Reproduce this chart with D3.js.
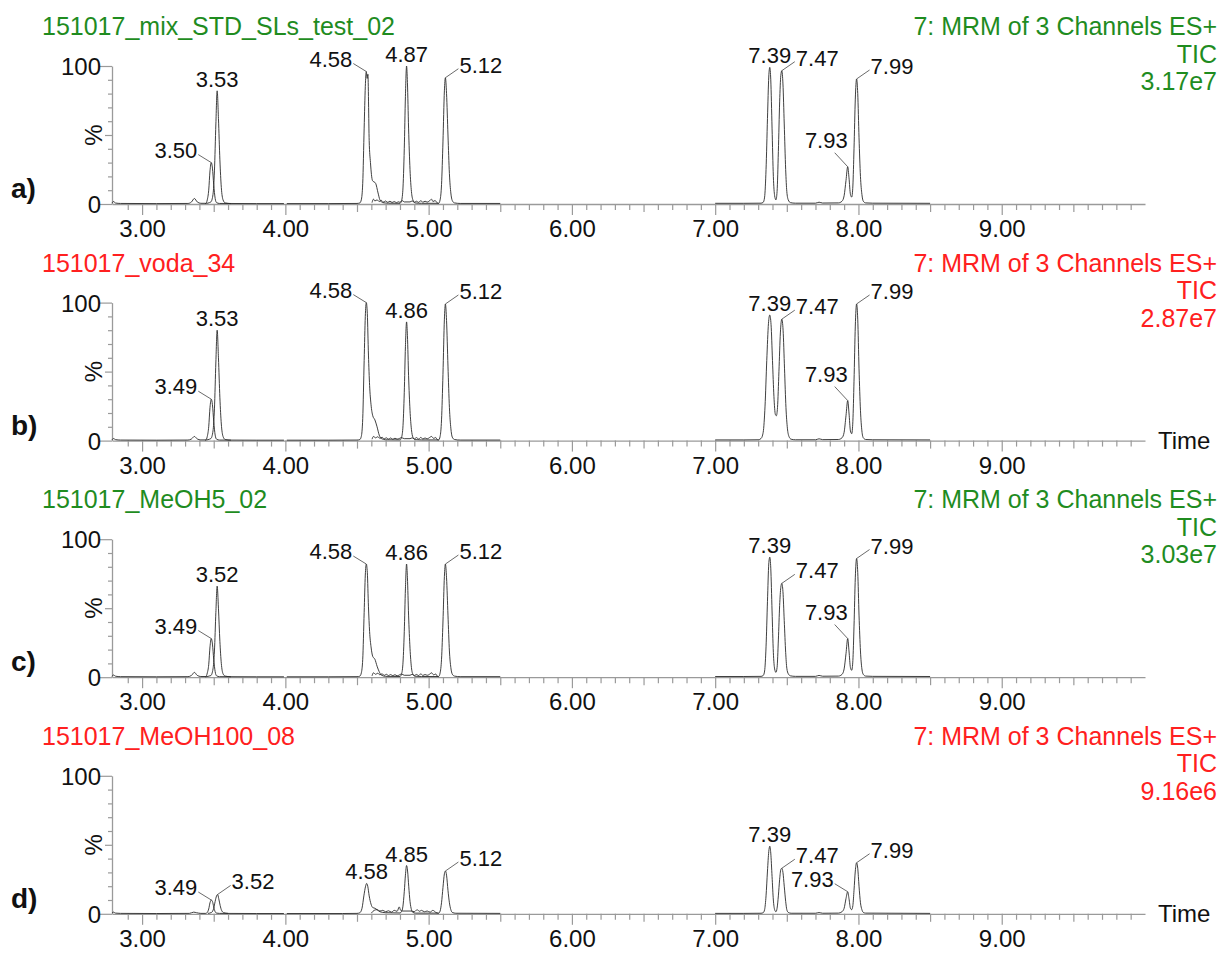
<!DOCTYPE html>
<html><head><meta charset="utf-8">
<script src="https://cdn.jsdelivr.net/npm/d3@7"></script>
<style>
html,body{margin:0;padding:0;background:#fff;}
svg{display:block;font-family:"Liberation Sans",Arial,sans-serif;}
</style></head>
<body>
<svg id="chart" width="1226" height="954"></svg>
<script>
// ---------------- DATA ----------------
const sampleNames = ["151017_mix_STD_SLs_test_02", "151017_voda_34", "151017_MeOH5_02", "151017_MeOH100_08"];
const panelLetters = ["a)", "b)", "c)", "d)"];
const headerColors = ["#1f8c1f", "#ff2020", "#1f8c1f", "#ff2020"];
const channelTitle = "7: MRM of 3 Channels ES+";
const traceType = "TIC";
const intensities = ["3.17e7", "2.87e7", "3.03e7", "9.16e6"];
const showTimeLabel = [false, true, false, true];
const timeTicks = [3, 4, 5, 6, 7, 8, 9];
const timeTickLabels = ["3.00", "4.00", "5.00", "6.00", "7.00", "8.00", "9.00"];
const yTickLabels = ["0", "100"];

// chromatogram traces: [time (min), relative intensity (%)]
const a_s1_c1 = [[2.79,0.6],[2.80,1.8],[2.815,0.7],[2.85,0.4],[3.10,0.3],[3.32,0.4],[3.345,1.5],[3.365,4],[3.385,1.5],[3.41,0.5],[3.445,0.5],[3.455,3],[3.465,10],[3.474,24],[3.483,30],[3.491,26],[3.50,14],[3.51,4],[3.52,1],[3.54,0.4],[3.80,0.3],[3.99,0.3]];
const a_s1_c2 = [[3.44,0.3],[3.48,1.5],[3.495,7],[3.505,24],[3.515,58],[3.524,82],[3.533,62],[3.543,32],[3.553,12],[3.565,3],[3.58,0.8],[3.62,0.3]];
const a_s2_c1 = [[4.01,0.3],[4.30,0.3],[4.50,0.4],[4.52,0.8],[4.53,3],[4.54,15],[4.55,55],[4.558,85],[4.565,96],[4.571,91],[4.576,94],[4.585,46],[4.594,30],[4.608,17],[4.63,15],[4.647,8],[4.66,3],[4.68,1],[4.72,0.6],[4.80,0.5],[4.81,2],[4.82,10],[4.83,40],[4.838,78],[4.846,100],[4.852,88],[4.86,55],[4.87,25],[4.88,9],[4.89,3],[4.905,0.8],[4.95,0.5],[5.07,0.5],[5.08,3],[5.09,14],[5.10,45],[5.11,82],[5.117,91.5],[5.125,80],[5.135,50],[5.145,22],[5.155,8],[5.165,2.5],[5.18,0.8],[5.22,0.4],[5.50,0.4]];
const a_s2_c2 = [[4.605,1],[4.615,3.5],[4.625,2.2],[4.64,3],[4.655,1.8],[4.67,2.6],[4.685,1.4],[4.70,2.2],[4.715,1.2],[4.73,2],[4.745,1.1],[4.76,1.8],[4.775,1],[4.79,1.6],[4.80,1.2],[4.815,2.5],[4.83,1.5],[4.87,1.5],[4.885,2.2],[4.90,1.3],[4.915,2],[4.93,1.2],[4.945,2.4],[4.96,1.3],[4.975,2],[4.99,1.4],[5.005,2.2],[5.02,3.5],[5.03,1.8],[5.045,2.5],[5.06,0.8],[5.07,0.4]];
const a_s3_c1 = [[7.00,0.5],[7.20,0.5],[7.32,0.6],[7.335,1.2],[7.345,5],[7.355,25],[7.365,62],[7.374,92],[7.381,99],[7.388,90],[7.397,55],[7.406,20],[7.415,6],[7.424,3],[7.432,9],[7.441,38],[7.45,74],[7.458,93],[7.465,96.6],[7.473,87],[7.482,58],[7.492,25],[7.50,9],[7.51,3],[7.525,1],[7.56,0.6],[7.70,0.6],[7.725,1.3],[7.75,0.7],[7.86,0.8],[7.885,2],[7.90,6],[7.913,17],[7.925,27],[7.934,19],[7.944,7],[7.953,5],[7.961,13],[7.969,40],[7.978,76],[7.987,90.6],[7.995,80],[8.004,48],[8.014,20],[8.024,7],[8.034,2],[8.05,0.8],[8.10,0.6],[8.50,0.5]];

const b_s1_c1 = [[2.79,0.6],[2.80,1.5],[2.815,0.7],[2.85,0.4],[3.10,0.3],[3.32,0.4],[3.345,1.2],[3.365,3],[3.385,1.2],[3.41,0.5],[3.445,0.5],[3.455,3],[3.465,10],[3.474,24],[3.483,30],[3.491,26],[3.50,14],[3.51,4],[3.52,1],[3.54,0.4],[3.80,0.3],[3.99,0.3]];
const b_s1_c2 = [[3.44,0.3],[3.48,1.5],[3.495,7],[3.505,23],[3.515,57],[3.524,80],[3.533,60],[3.543,31],[3.553,12],[3.565,3],[3.58,0.8],[3.62,0.3]];
const b_s2_c1 = [[4.01,0.3],[4.30,0.3],[4.50,0.4],[4.52,0.8],[4.53,3],[4.54,16],[4.55,58],[4.558,90],[4.565,100],[4.572,92],[4.58,62],[4.588,40],[4.598,26],[4.61,18],[4.625,15],[4.64,10],[4.655,4],[4.67,1.5],[4.70,0.6],[4.80,0.5],[4.81,2],[4.82,9],[4.83,35],[4.838,68],[4.846,86],[4.852,76],[4.86,47],[4.87,22],[4.88,8],[4.89,2.5],[4.905,0.7],[4.95,0.5],[5.07,0.5],[5.08,3],[5.09,15],[5.10,48],[5.11,88],[5.117,99],[5.125,87],[5.135,54],[5.145,24],[5.155,9],[5.165,2.5],[5.18,0.8],[5.22,0.4],[5.50,0.4]];
const b_s2_c2 = [[4.605,1],[4.615,3],[4.63,2],[4.645,2.8],[4.66,1.6],[4.675,2.4],[4.69,1.3],[4.705,2],[4.72,1.1],[4.735,1.9],[4.75,1],[4.765,1.7],[4.78,1.1],[4.795,1.5],[4.81,2.2],[4.83,1.4],[4.87,1.4],[4.885,2],[4.90,1.2],[4.915,2.2],[4.93,1.1],[4.945,2.3],[4.96,1.2],[4.975,1.9],[4.99,1.3],[5.005,2.1],[5.02,3],[5.035,1.6],[5.05,2.2],[5.06,0.7],[5.07,0.4]];
const b_s3_c1 = [[7.00,0.5],[7.20,0.5],[7.30,0.6],[7.32,1.5],[7.335,6],[7.348,25],[7.36,58],[7.372,85],[7.381,91],[7.39,84],[7.40,58],[7.41,32],[7.42,19],[7.427,18],[7.435,24],[7.445,50],[7.455,78],[7.465,88],[7.474,80],[7.484,52],[7.494,24],[7.504,9],[7.515,3],[7.53,1],[7.56,0.6],[7.70,0.6],[7.725,1.3],[7.75,0.7],[7.86,0.8],[7.885,2],[7.90,6],[7.913,18],[7.925,29],[7.934,20],[7.944,7],[7.953,5],[7.961,14],[7.969,43],[7.978,83],[7.987,99],[7.995,88],[8.004,52],[8.014,22],[8.024,7],[8.034,2],[8.05,0.8],[8.10,0.6],[8.50,0.5]];

const c_s1_c1 = [[2.79,0.6],[2.80,1.6],[2.815,0.7],[2.85,0.4],[3.10,0.3],[3.32,0.4],[3.345,1.3],[3.365,3.5],[3.385,1.3],[3.41,0.5],[3.445,0.5],[3.455,3],[3.465,9],[3.474,22],[3.483,28],[3.491,24],[3.50,13],[3.51,4],[3.52,1],[3.54,0.4],[3.80,0.3],[3.99,0.3]];
const c_s1_c2 = [[3.44,0.3],[3.48,1.2],[3.495,6],[3.505,19],[3.515,47],[3.524,66],[3.533,50],[3.543,26],[3.553,10],[3.565,2.5],[3.58,0.8],[3.62,0.3]];
const c_s2_c1 = [[4.01,0.3],[4.30,0.3],[4.50,0.4],[4.52,0.8],[4.53,3],[4.54,13],[4.55,47],[4.558,74],[4.565,82],[4.572,76],[4.58,51],[4.588,33],[4.598,22],[4.61,15],[4.625,13],[4.64,8],[4.655,4],[4.67,1.5],[4.70,0.6],[4.80,0.5],[4.81,2],[4.82,9],[4.83,33],[4.838,64],[4.846,82],[4.852,72],[4.86,45],[4.87,21],[4.88,7],[4.89,2.2],[4.905,0.7],[4.95,0.5],[5.07,0.5],[5.08,3],[5.09,13],[5.10,40],[5.11,73],[5.117,82],[5.125,72],[5.135,45],[5.145,19],[5.155,7],[5.165,2.2],[5.18,0.8],[5.22,0.4],[5.50,0.4]];
const c_s2_c2 = [[4.605,1],[4.615,3.2],[4.63,2.1],[4.645,2.9],[4.66,1.7],[4.675,2.5],[4.69,1.3],[4.705,2.1],[4.72,1.2],[4.735,1.9],[4.75,1.1],[4.765,1.8],[4.78,1],[4.795,1.6],[4.81,2.3],[4.83,1.4],[4.87,1.4],[4.885,2.1],[4.90,1.2],[4.915,2],[4.93,1.2],[4.945,2.4],[4.96,1.3],[4.975,1.9],[4.99,1.4],[5.005,2],[5.02,3.2],[5.035,1.7],[5.05,2.3],[5.06,0.8],[5.07,0.4]];
const c_s3_c1 = [[7.00,0.5],[7.20,0.5],[7.32,0.6],[7.335,1.2],[7.345,4.5],[7.355,22],[7.365,55],[7.374,82],[7.381,87],[7.388,79],[7.397,48],[7.406,18],[7.415,6],[7.424,3.5],[7.432,7],[7.441,27],[7.45,52],[7.458,65],[7.465,68],[7.473,62],[7.482,41],[7.492,18],[7.50,6.5],[7.51,2.5],[7.525,1],[7.56,0.6],[7.70,0.6],[7.725,1.3],[7.75,0.7],[7.86,0.8],[7.885,2],[7.90,6],[7.913,17],[7.925,28],[7.934,19],[7.944,7],[7.953,5],[7.961,12],[7.969,37],[7.978,72],[7.987,86],[7.995,76],[8.004,45],[8.014,19],[8.024,6],[8.034,2],[8.05,0.8],[8.10,0.6],[8.50,0.5]];

const d_s1_c1 = [[2.79,0.5],[2.80,1.2],[2.815,0.5],[2.85,0.3],[3.10,0.2],[3.33,0.3],[3.36,1.2],[3.38,0.8],[3.41,0.3],[3.445,0.3],[3.455,1],[3.465,3.5],[3.474,8],[3.483,10],[3.491,9],[3.50,5],[3.51,1.5],[3.52,0.5],[3.54,0.3],[3.80,0.2],[3.99,0.2]];
const d_s1_c2 = [[3.46,0.3],[3.485,1],[3.50,4],[3.51,9],[3.52,13],[3.527,14],[3.535,11],[3.545,6],[3.555,2.5],[3.57,0.8],[3.60,0.3]];
const d_s2_c1 = [[4.01,0.2],[4.40,0.2],[4.50,0.3],[4.52,0.8],[4.535,4],[4.548,13],[4.56,20],[4.567,22],[4.575,20],[4.585,13],[4.598,7],[4.61,4.5],[4.625,4],[4.64,3],[4.66,1.5],[4.70,0.8],[4.80,0.6],[4.81,1.5],[4.82,5],[4.83,16],[4.838,28],[4.846,35],[4.853,31],[4.861,20],[4.87,9],[4.88,3],[4.89,1],[4.91,0.5],[5.07,0.5],[5.08,2],[5.09,8],[5.10,19],[5.11,29],[5.117,31],[5.125,28],[5.135,17],[5.145,8],[5.155,3],[5.165,1],[5.19,0.4],[5.50,0.3]];
const d_s2_c2 = [[4.60,0.5],[4.62,2.5],[4.64,3],[4.66,2],[4.68,2.5],[4.70,1.5],[4.72,2.2],[4.74,1.2],[4.76,2.5],[4.78,1.8],[4.795,5],[4.805,2.5],[4.82,2],[4.88,2],[4.90,1.5],[4.92,3],[4.935,1.8],[4.95,2.5],[4.97,1.5],[4.99,2],[5.01,1.2],[5.03,2.5],[5.05,1],[5.07,0.3]];
const d_s3_c1 = [[7.00,0.3],[7.20,0.3],[7.32,0.4],[7.335,0.8],[7.345,3],[7.355,13],[7.365,31],[7.374,45],[7.381,49],[7.388,44],[7.397,27],[7.406,10],[7.415,3],[7.424,1.5],[7.432,4],[7.441,13],[7.45,25],[7.458,32],[7.465,33],[7.473,30],[7.482,20],[7.492,9],[7.50,3],[7.51,1],[7.53,0.4],[7.70,0.4],[7.725,0.9],[7.75,0.4],[7.86,0.5],[7.885,1.5],[7.90,4],[7.913,11],[7.925,16],[7.934,11],[7.944,4],[7.953,3],[7.961,6],[7.969,17],[7.978,31],[7.987,37],[7.995,33],[8.004,20],[8.014,8],[8.024,3],[8.034,1],[8.05,0.5],[8.50,0.3]];

// labelled peaks: [label, apex time, apex %]
const a_peaks = [["3.50",3.483,30],["3.53",3.524,82],["4.58",4.565,96],["4.87",4.846,100],["5.12",5.117,91.5],["7.39",7.381,99],["7.47",7.465,96.6],["7.93",7.925,27],["7.99",7.987,90.6]];
const b_peaks = [["3.49",3.483,30],["3.53",3.524,80],["4.58",4.565,100],["4.86",4.846,86],["5.12",5.117,99],["7.39",7.381,91],["7.47",7.465,88],["7.93",7.925,29],["7.99",7.987,99]];
const c_peaks = [["3.49",3.483,28],["3.52",3.524,66],["4.58",4.565,82],["4.86",4.846,82],["5.12",5.117,82],["7.39",7.381,87],["7.47",7.465,68],["7.93",7.925,28],["7.99",7.987,86]];
const d_peaks = [["3.49",3.483,10],["3.52",3.527,14],["4.58",4.567,22],["4.85",4.846,35],["5.12",5.117,31],["7.39",7.381,49],["7.47",7.465,33],["7.93",7.925,16],["7.99",7.987,37]];

// ---------------- LAYOUT (not data) ----------------
// label placement: [anchor, text dx, text dy (baseline), leader end dx, leader end dy] relative to apex
const L = {
  top:    ["middle", 0, -4, null, null],
  left:   ["end", -14, -5, -13, -8],
  right:  ["start", 14, -5, 13, -9],
  upleft: ["end", 0, -19, -13, -14]
};
const a_place = ["left","top","left","top","right","top","right","upleft","right"];
const b_place = ["left","top","left","top","right","top","right","upleft","right"];
const c_place = ["left","top","left","top","right","top","right","upleft","right"];
const d_place = ["left","right","top","top","right","top","right","left","right"];

const panels = [
  {traces:[a_s1_c1,a_s1_c2,a_s2_c1,a_s2_c2,a_s3_c1], peaks:a_peaks, place:a_place},
  {traces:[b_s1_c1,b_s1_c2,b_s2_c1,b_s2_c2,b_s3_c1], peaks:b_peaks, place:b_place},
  {traces:[c_s1_c1,c_s1_c2,c_s2_c1,c_s2_c2,c_s3_c1], peaks:c_peaks, place:c_place},
  {traces:[d_s1_c1,d_s1_c2,d_s2_c1,d_s2_c2,d_s3_c1], peaks:d_peaks, place:d_place}
];

const svg = d3.select("#chart");
const x = d3.scaleLinear().domain([2.79, 10.0]).range([112, 1145]);
const base0 = 204, step = 236.6, plotH = 138;
const minorTimes = d3.range(29, 100).map(v => v / 10);
const yTicks = d3.range(0, 101, 10);

panels.forEach((p, i) => {
  const base = base0 + i * step;
  const y = d3.scaleLinear().domain([0, 100]).range([base, base - plotH]);
  const g = svg.append("g");

  // headers
  g.append("text").attr("x", 42).attr("y", base - 169).attr("fill", headerColors[i])
    .attr("font-size", 25).text(sampleNames[i]);
  [channelTitle, traceType, intensities[i]].forEach((t, k) => {
    g.append("text").attr("x", 1217).attr("y", base - 169 + k * 27.5).attr("text-anchor", "end")
      .attr("fill", headerColors[i]).attr("font-size", 25).text(t);
  });
  g.append("text").attr("x", 11).attr("y", base - 6).attr("font-size", 28).attr("font-weight", "bold")
    .attr("fill", "#111").text(panelLetters[i]);

  // y axis
  const ya = d3.axisLeft(y).tickValues(yTicks).tickSizeOuter(0).tickFormat(() => "");
  const yg = g.append("g").attr("transform", "translate(112,0)").call(ya);
  yg.select(".domain").attr("stroke", "#9a9a9a").attr("stroke-width", 1.3);
  yg.selectAll(".tick line").attr("stroke", "#9a9a9a").attr("stroke-width", 1.2)
    .attr("x2", d => (d === 0 || d === 100) ? -12 : (d === 50 ? -7 : -4));
  yg.selectAll(".tick").filter(d => d === 0 || d === 100).append("text")
    .attr("x", -11).attr("dy", "0.36em").attr("text-anchor", "end").attr("fill", "#111")
    .attr("font-size", 24).text(d => d === 0 ? yTickLabels[0] : yTickLabels[1]);
  g.append("text").attr("transform", `translate(93,${base - 69}) rotate(-90)`)
    .attr("text-anchor", "middle").attr("dy", "0.36em").attr("font-size", 24).attr("fill", "#111").text("%");

  // x axis
  const xa = d3.axisBottom(x).tickValues(minorTimes).tickSizeOuter(0).tickFormat(() => "");
  const xg = g.append("g").attr("transform", `translate(0,${base})`).call(xa);
  xg.select(".domain").attr("stroke", "#9a9a9a").attr("stroke-width", 1.3);
  xg.selectAll(".tick line").attr("stroke", "#9a9a9a").attr("stroke-width", 1.2)
    .attr("y2", d => {
      const r = Math.round(d * 10);
      return r % 10 === 0 ? 11 : (r % 5 === 0 ? 8 : 6);
    });
  xg.selectAll(".tick").filter(d => timeTicks.includes(Math.round(d * 10) / 10))
    .append("text").attr("y", 33).attr("text-anchor", "middle").attr("fill", "#111")
    .attr("font-size", 24).text(d => timeTickLabels[timeTicks.indexOf(Math.round(d))]);
  if (showTimeLabel[i]) {
    g.append("text").attr("x", 1158).attr("y", base + 8).attr("font-size", 24).attr("fill", "#111").text("Time");
  }

  // traces
  const line = d3.line().x(d => x(d[0])).y(d => y(d[1])).curve(d3.curveMonotoneX);
  p.traces.forEach(tr => {
    g.append("path").datum(tr).attr("d", line).attr("fill", "none")
      .attr("stroke", "#2a2a2a").attr("stroke-width", 0.9).attr("stroke-linejoin", "round");
  });

  // peak labels
  p.peaks.forEach((pk, j) => {
    const [anchor, tdx, tdy, lx, ly] = L[p.place[j]];
    const ax = x(pk[1]), ay = y(pk[2]);
    if (lx !== null) {
      g.append("line").attr("x1", ax).attr("y1", ay).attr("x2", ax + lx).attr("y2", ay + ly)
        .attr("stroke", "#444").attr("stroke-width", 0.8);
    }
    g.append("text").attr("x", ax + tdx).attr("y", ay + tdy).attr("text-anchor", anchor)
      .attr("font-size", 22).attr("fill", "#111").text(pk[0]);
  });
});
</script>
</body></html>
